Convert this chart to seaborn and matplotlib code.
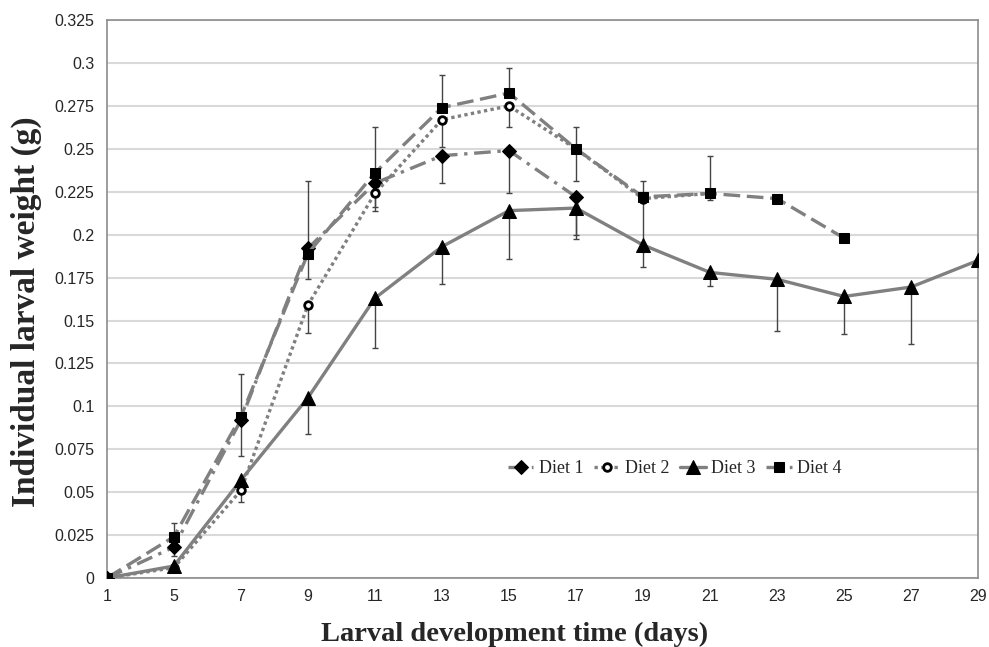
import numpy as np
import pandas as pd
import seaborn as sns
import matplotlib.pyplot as plt

# data
days = [1, 5, 7, 9, 11, 13, 15, 17, 19, 21, 23, 25, 27, 29]
diet1 = [0, 0.018, 0.092, 0.192, 0.230, 0.246, 0.249, 0.222]
diet2 = [0, 0.006, 0.051, 0.159, 0.224, 0.267, 0.275, 0.250, 0.221, 0.224]
diet3 = [0, 0.007, 0.057, 0.105, 0.163, 0.193, 0.214, 0.2155, 0.194, 0.178, 0.174, 0.164, 0.1695, 0.185]
diet4 = [0, 0.024, 0.094, 0.189, 0.236, 0.274, 0.2825, 0.250, 0.222, 0.224, 0.221, 0.198]

# error bars: diets 1-3 show only the minus side, diet 4 only the plus side
err1_lo = [0, 0.005, 0.021, 0.018, 0.014, 0.016, 0.025, 0.022]
err2_lo = [0, 0.002, 0.007, 0.016, 0.010, 0.016, 0.012, 0.019, 0.027, 0.004]
err3_lo = [0, 0.002, 0.006, 0.021, 0.029, 0.022, 0.028, 0.018, 0.013, 0.008, 0.030, 0.022, 0.033, 0]
err4_hi = [0, 0.008, 0.025, 0.042, 0.027, 0.019, 0.0145, 0.013, 0.009, 0.022, 0.002, 0.002]

names = ["Diet 1", "Diet 2", "Diet 3", "Diet 4"]
series = [diet1, diet2, diet3, diet4]

rows = []
for name, vals in zip(names, series):
    for i, v in enumerate(vals):
        rows.append({"pos": i, "day": days[i], "weight": v, "diet": name})
df = pd.DataFrame(rows)

sns.set_style("white")
plt.rcParams["font.family"] = ["Liberation Sans", "DejaVu Sans"]

fig = plt.figure(figsize=(9.89, 6.47), dpi=100)
ax = fig.add_axes([0.108, 0.1066, 0.881, 0.8624])

gray = "#808080"
dashes = {"Diet 1": (5, 2, 1, 2), "Diet 2": (1, 1), "Diet 3": "", "Diet 4": (5, 2)}
markers = {"Diet 1": "D", "Diet 2": "o", "Diet 3": "^", "Diet 4": "s"}

sns.lineplot(data=df, x="pos", y="weight", hue="diet", style="diet",
             palette=[gray] * 4, dashes=dashes, markers=markers,
             linewidth=2.4, markersize=8, markeredgecolor="black",
             legend=False, ax=ax, zorder=3)

lines = ax.lines[:4]
sizes = {"Diet 1": 7, "Diet 2": 5.5, "Diet 3": 10, "Diet 4": 7.5}
for ln, name in zip(lines, names):
    ln.set_markerfacecolor("black")
    ln.set_markeredgecolor("black")
    ln.set_markersize(sizes[name])
    ln.set_label(name)
lines[1].set_markerfacecolor("white")
lines[1].set_markeredgewidth(2)

# error bars
pos1 = np.arange(len(diet1))
pos2 = np.arange(len(diet2))
pos3 = np.arange(len(diet3))
pos4 = np.arange(len(diet4))
eb = dict(fmt="none", ecolor="#444444", elinewidth=1, capsize=2.5, capthick=1, zorder=2)
ax.errorbar(pos1, diet1, yerr=[err1_lo, np.zeros(len(diet1))], **eb)
ax.errorbar(pos2, diet2, yerr=[err2_lo, np.zeros(len(diet2))], **eb)
ax.errorbar(pos3, diet3, yerr=[err3_lo, np.zeros(len(diet3))], **eb)
ax.errorbar(pos4, diet4, yerr=[np.zeros(len(diet4)), err4_hi], **eb)

ax.set_xlim(0, len(days) - 1)
ax.set_ylim(0, 0.325)
ax.set_xticks(range(len(days)))
ax.set_xticklabels([str(d) for d in days], fontsize=11.5)
yt = np.arange(0, 0.3251, 0.025)
ax.set_yticks(yt)
ax.set_yticklabels([f"{v:g}" for v in np.round(yt, 3)], fontsize=11.5)
ax.tick_params(axis="y", length=0, pad=9)
ax.tick_params(axis="x", length=0, pad=8)
ax.yaxis.grid(True, color="#d9d9d9", linewidth=1.5)
ax.set_axisbelow(True)
for s in ax.spines.values():
    s.set_color("#8c8c8c")
    s.set_linewidth(1.2)

ax.set_xlabel("Larval development time (days)", fontsize=20.5, fontweight="bold",
              family="Liberation Serif")
ax.set_ylabel("Individual larval weight (g)", fontsize=24, fontweight="bold",
              family="Liberation Serif")
ax.xaxis.set_label_coords(0.468, -0.079)
ax.yaxis.set_label_coords(-0.074, 0.477)

ax.legend(handles=lines, labels=names, loc="center", bbox_to_anchor=(0.652, 0.196),
          ncol=4, frameon=False, handlelength=1.4, columnspacing=0.6, handletextpad=0.3,
          prop={"family": "Liberation Serif", "size": 13})

fig.savefig("out.png", dpi=100)
